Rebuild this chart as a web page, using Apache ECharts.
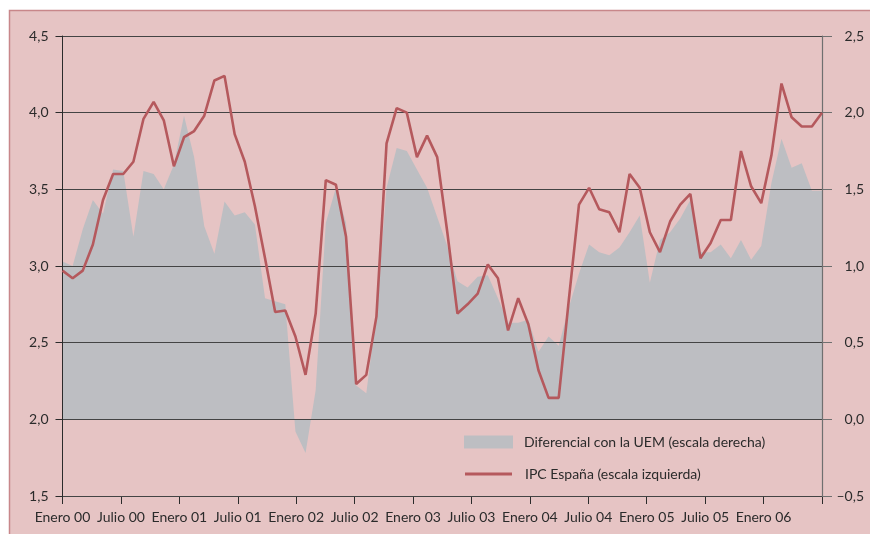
<!DOCTYPE html>
<html>
<head>
<meta charset="utf-8">
<script src="https://cdn.jsdelivr.net/npm/echarts@6/dist/echarts.min.js"></script>
<style>
  html, body { margin: 0; padding: 0; background: #fff; }
  #chart { width: 870px; height: 534px; }
</style>
</head>
<body>
<div id="chart"></div>
<script>
// bottom axis labels, one every six months (last tick has none)
const xLabels = ['Enero 00', 'Julio 00', 'Enero 01', 'Julio 01', 'Enero 02', 'Julio 02',
  'Enero 03', 'Julio 03', 'Enero 04', 'Julio 04', 'Enero 05', 'Julio 05', 'Enero 06', ''];

// monthly categories, Jan 2000 .. Apr 2006
const months = [];
for (let y = 2000; y <= 2006; y++) {
  for (let m = 1; m <= 12 && months.length < 76; m++) {
    months.push(y + '-' + String(m).padStart(2, '0'));
  }
}

// IPC Espana, left scale
const ipc = [
  2.97, 2.92, 2.97, 3.14, 3.43, 3.60, 3.60, 3.68, 3.96, 4.07,
  3.95, 3.65, 3.84, 3.88, 3.98, 4.21, 4.24, 3.86, 3.68, 3.39,
  3.05, 2.70, 2.71, 2.54, 2.29, 2.69, 3.56, 3.53, 3.19, 2.23,
  2.29, 2.67, 3.80, 4.03, 4.00, 3.71, 3.85, 3.71, 3.22, 2.69,
  2.75, 2.82, 3.01, 2.92, 2.58, 2.79, 2.62, 2.32, 2.14, 2.14,
  2.78, 3.40, 3.51, 3.37, 3.35, 3.22, 3.60, 3.51, 3.22, 3.09,
  3.29, 3.40, 3.47, 3.05, 3.15, 3.30, 3.30, 3.75, 3.52, 3.41,
  3.72, 4.19, 3.97, 3.91, 3.91, 4.00
];

// differential vs UEM, right scale
const dif = [
  1.03, 1.00, 1.24, 1.43, 1.34, 1.63, 1.62, 1.19, 1.62, 1.60,
  1.50, 1.66, 1.98, 1.71, 1.26, 1.08, 1.42, 1.33, 1.35, 1.27,
  0.79, 0.77, 0.75, -0.08, -0.22, 0.19, 1.28, 1.51, 1.28, 0.22,
  0.17, 0.69, 1.51, 1.77, 1.75, 1.63, 1.51, 1.32, 1.13, 0.90,
  0.86, 0.93, 0.94, 0.79, 0.63, 0.63, 0.65, 0.44, 0.54, 0.48,
  0.73, 0.95, 1.14, 1.09, 1.07, 1.12, 1.22, 1.33, 0.89, 1.17,
  1.22, 1.31, 1.43, 1.09, 1.09, 1.14, 1.05, 1.17, 1.04, 1.13,
  1.54, 1.83, 1.64, 1.67, 1.49, 1.49
];

const difName = 'Diferencial con la UEM (escala derecha)';
const ipcName = 'IPC España (escala izquierda)';

const ink = '#2b2b2b';
const red = '#b5595d';
const grey = '#bdbec2';
const font = 'Lato';

const fmt = v => (v < 0 ? '–' : '') + Math.abs(v).toFixed(1).replace('.', ',');

const chart = echarts.init(document.getElementById('chart'));
chart.setOption({
  animation: false,
  backgroundColor: '#ffffff',
  textStyle: { fontFamily: font },
  graphic: [{
    type: 'rect', z: -10, silent: true,
    shape: { x: 9.5, y: 10.5, width: 900, height: 600 },
    style: { fill: '#e6c4c4', stroke: '#c8878a', lineWidth: 1.5 }
  }],
  grid: { left: 62.5, right: 48, top: 36, bottom: 38 },
  legend: [{
    data: [{ name: difName, icon: 'rect' }],
    left: 464, top: 435, padding: 0, selectedMode: false,
    itemWidth: 49, itemHeight: 13, itemStyle: { borderWidth: 0 },
    textStyle: { fontSize: 14, color: ink, fontFamily: font, padding: [0, 0, 0, 6] }
  }, {
    data: [{ name: ipcName, icon: 'rect' }],
    left: 465, top: 467, padding: 0, selectedMode: false,
    itemWidth: 47, itemHeight: 3, itemStyle: { borderWidth: 0 },
    textStyle: { fontSize: 14, color: ink, fontFamily: font, padding: [0, 0, 0, 8] }
  }],
  xAxis: [{
    type: 'category', data: months, boundaryGap: false, show: false, position: 'top'
  }, {
    type: 'value', min: 0, max: 13, interval: 1, position: 'bottom',
    axisLine: { show: true, lineStyle: { color: ink, width: 1 } },
    axisTick: { show: true, length: 8, lineStyle: { color: ink } },
    axisLabel: { formatter: v => xLabels[v] || '', margin: 14, color: ink, fontSize: 14, fontFamily: font },
    splitLine: { show: false }
  }],
  yAxis: [{
    type: 'value', min: 1.5, max: 4.5, interval: 0.5, position: 'left', z: 3,
    axisLine: { show: true, lineStyle: { color: ink, width: 1 } },
    axisTick: { show: true, length: 7, lineStyle: { color: ink } },
    axisLabel: { formatter: fmt, margin: 14, color: ink, fontSize: 14, fontFamily: font },
    splitLine: { show: true, lineStyle: { color: '#444444', width: 1.2 } }
  }, {
    type: 'value', min: -0.5, max: 2.5, interval: 0.5, position: 'right', z: 3,
    axisLine: { show: true, lineStyle: { color: '#707070', width: 1.2 } },
    axisTick: { show: true, length: 10, lineStyle: { color: '#707070' } },
    axisLabel: { formatter: fmt, margin: 42, align: 'right', color: ink, fontSize: 14, fontFamily: font },
    splitLine: { show: false }
  }],
  series: [{
    name: difName, type: 'line', xAxisIndex: 0, yAxisIndex: 1, data: dif,
    symbol: 'none', z: 2,
    lineStyle: { width: 0, color: grey },
    itemStyle: { color: grey },
    areaStyle: { color: grey, opacity: 1 }
  }, {
    name: ipcName, type: 'line', xAxisIndex: 0, yAxisIndex: 0, data: ipc,
    symbol: 'none', z: 5,
    lineStyle: { width: 2.6, color: red },
    itemStyle: { color: red }
  }]
});
</script>
</body>
</html>
